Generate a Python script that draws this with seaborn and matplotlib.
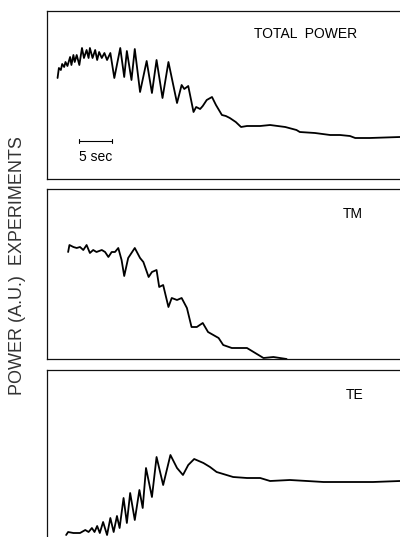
import matplotlib
matplotlib.use("Agg")
import matplotlib.pyplot as plt
import seaborn as sns
import pandas as pd

# ---- data (time in seconds, power in arbitrary units) ----
total_t = [1.6, 1.8, 2.1, 2.3, 2.6, 2.8, 3.1, 3.5, 3.7, 4.0, 4.2, 4.5, 4.9, 5.3, 5.6, 6.0,
           6.3, 6.5, 6.9, 7.3, 7.6, 7.9, 8.3, 8.7, 9.1, 9.6, 10.2, 11.1, 11.7, 12.1, 12.8,
           13.3, 14.1, 15.1, 15.9, 16.6, 17.5, 18.4, 19.7, 20.4, 20.8, 21.4, 22.2, 22.6,
           23.2, 23.6, 24.2, 25.0, 25.6, 26.5, 27.1, 27.7, 28.6, 29.4, 30.3, 32.3, 33.8,
           36.1, 37.8, 38.3, 40.6, 42.9, 44.4, 45.9, 46.7, 48.9, 51.2, 53.5, 55.0]
total_p = [101, 111, 109, 115, 112, 117, 113, 122, 114, 124, 117, 124, 114, 131, 121, 129,
           121, 131, 121, 129, 119, 127, 121, 126, 119, 126, 101, 131, 102, 128, 99,
           130, 87, 118, 86, 119, 81, 117, 76, 94, 90, 93, 67, 72,
           70, 73, 79, 82, 74, 64, 63, 61, 57, 52, 53, 53, 54,
           52, 49, 47, 46, 44, 44, 43, 41, 41, 41.5, 42, 42]

tm_t = [3.2, 3.4, 4.0, 4.5, 5.0, 5.5, 6.0, 6.5, 7.0, 7.5, 8.3, 8.8, 9.3, 9.8, 10.3, 10.8,
        11.3, 11.7, 12.3, 13.3, 14.1, 14.6, 15.4, 15.9, 16.6, 17.0, 17.6, 18.4, 18.9,
        19.7, 20.4, 21.2, 21.9, 22.7, 23.6, 24.4, 25.2, 26.0, 26.7, 28.0, 29.2, 30.3,
        31.3, 32.8, 34.3, 36.3]
tm_p = [107, 114, 112, 111, 112, 109, 114, 106, 109, 107, 109, 107, 102, 107, 107, 111,
        99, 83, 101, 111, 101, 97, 82, 87, 89, 72, 74, 52, 61,
        59, 61, 51, 32, 32, 36, 27, 24, 21, 14, 11, 11, 11,
        7, 1, 2, 0]

te_t = [2.9, 3.2, 4.0, 5.0, 5.8, 6.3, 6.8, 7.2, 7.6, 8.0, 8.5, 9.1, 9.6, 10.1, 10.6, 11.0,
        11.6, 12.1, 12.6, 13.3, 14.0, 14.5, 15.0, 15.9, 16.6, 17.6, 18.7, 19.7, 20.6,
        21.4, 22.3, 23.7, 24.7, 25.7, 26.7, 28.2, 30.3, 32.3, 33.8, 36.8, 39.4, 41.9,
        44.4, 46.9, 49.4, 53.5, 55.0]
te_p = [5, 8, 7, 7, 10, 8, 12, 8, 14, 7, 18, 5, 22, 8, 24, 12,
        42, 17, 47, 20, 50, 32, 72, 43, 83, 55, 85, 72, 65,
        75, 81, 77, 73, 68, 66, 63, 62, 62, 59, 60, 59, 58,
        58, 58, 58, 59, 59]

panel_labels = ["TOTAL  POWER", "TM", "TE"]
y_label = "POWER (A.U.)  EXPERIMENTS"
scale_len = 5
scale_text = "5 sec"

sns.set_style("white")
plt.rcParams["font.family"] = ["Liberation Sans", "DejaVu Sans"]

W, H = 400, 537
fig = plt.figure(figsize=(W / 100, H / 100), dpi=100)

def px_axes(left, top, right, bottom):
    return fig.add_axes([left / W, 1 - bottom / H, (right - left) / W, (bottom - top) / H])

panels = [
    (px_axes(47, 11, 410, 179), total_t, total_p, 168, (0.711, 0.863)),
    (px_axes(47, 189, 410, 359), tm_t, tm_p, 170, (0.843, 0.853)),
    (px_axes(47, 370, 410, 540), te_t, te_p, 170, (0.848, 0.853)),
]

for (ax, t, p, ymax, lpos), lab in zip(panels, panel_labels):
    df = pd.DataFrame({"t": t, "p": p})
    sns.lineplot(data=df, x="t", y="p", ax=ax, color="black", lw=1.3,
                 sort=False, estimator=None)
    ax.set_xlim(0, 55)
    ax.set_ylim(0, ymax)
    ax.set_xticks([])
    ax.set_yticks([])
    ax.set_xlabel("")
    ax.set_ylabel("")
    for side in ["left", "top", "bottom"]:
        ax.spines[side].set_visible(True)
        ax.spines[side].set_color("#111111")
        ax.spines[side].set_linewidth(0.9)
    ax.spines["right"].set_visible(False)
    ax.text(lpos[0], lpos[1], lab, transform=ax.transAxes, ha="center",
            va="center", fontsize=10, color="black")

# scale bar in the first panel
ax0 = panels[0][0]
x0 = 4.9
ax0.plot([x0, x0 + scale_len], [38, 38], color="black", lw=0.8)
ax0.plot([x0, x0], [36, 40], color="black", lw=0.8)
ax0.plot([x0 + scale_len, x0 + scale_len], [36, 40], color="black", lw=0.8)
ax0.text(x0 + scale_len / 2, 22, scale_text, ha="center", va="center",
         fontsize=10, color="black")

fig.text(18 / W, 1 - 266 / H, y_label, rotation=90, ha="center", va="center",
         fontsize=13, color="#333333")

fig.savefig("out.png", dpi=100)
